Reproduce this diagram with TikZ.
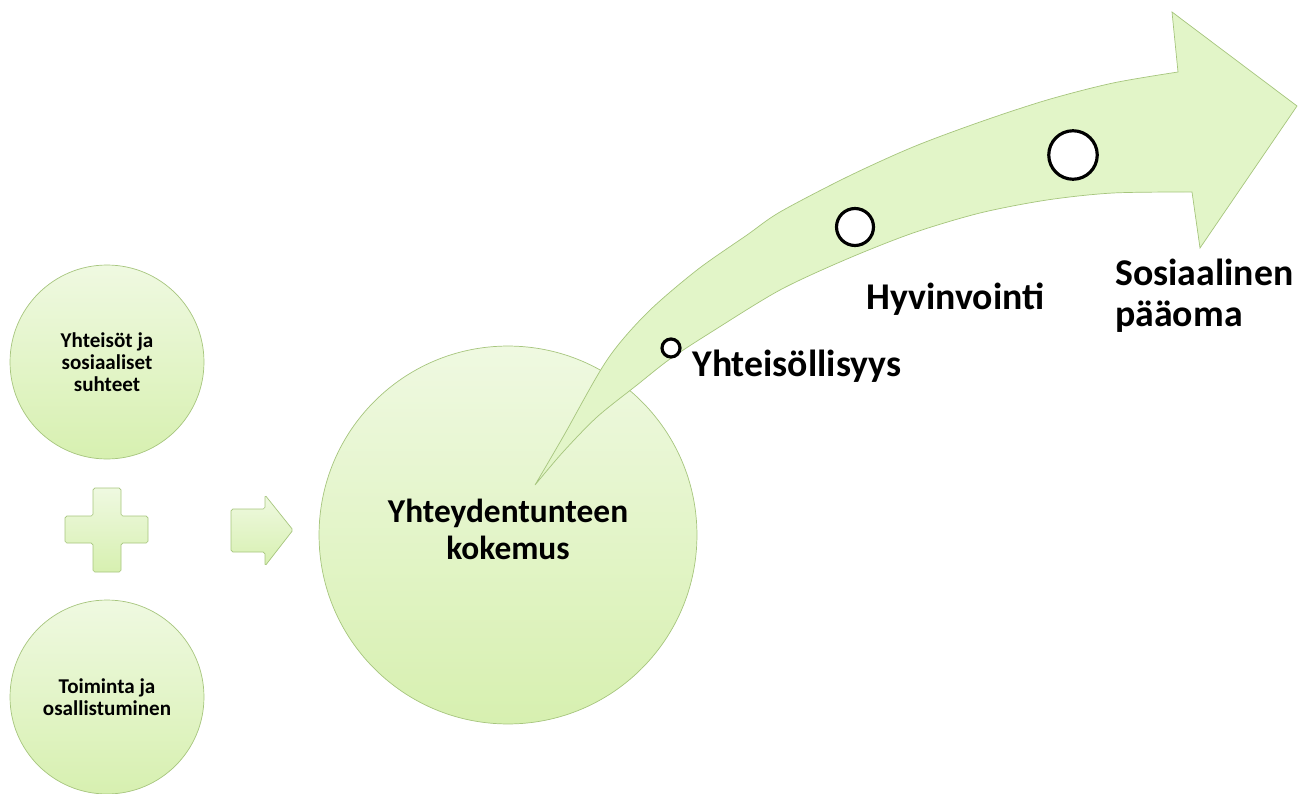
\documentclass[tikz,border=0pt]{standalone}
\usepackage{fontspec}
\setmainfont{Carlito}
\definecolor{leaftop}{HTML}{EFF9E1}
\definecolor{leafbot}{HTML}{D7F0B0}
\definecolor{leaffill}{HTML}{E2F5C8}
\definecolor{leafline}{HTML}{A6C57D}

\begin{document}
\begin{tikzpicture}[x=0.02cm,y=-0.02cm,
		bubble/.style={circle,draw=leafline,top color=leaftop,bottom color=leafbot,align=center,inner sep=0pt},
		blockshape/.style={draw=leafline,top color=leaftop,bottom color=leafbot,rounded corners=1pt},
		stage/.style={circle,draw=black,fill=white,line width=1.8pt,inner sep=0pt},
		stagetext/.style={anchor=base west,inner sep=0pt,align=left,font=\bfseries\fontsize{21.5}{23}\selectfont}]
	\useasboundingbox (0,0) rectangle (1311,794);
	\node[bubble,minimum size=3.88cm,font=\bfseries\fontsize{12}{12.6}\selectfont] (yhteisot) at (107,362) {Yhteisöt ja\\sosiaaliset\\suhteet};
	\node[bubble,minimum size=3.88cm,font=\bfseries\fontsize{12}{12.6}\selectfont] (toiminta) at (107,697) {Toiminta ja\\osallistuminen};
	\draw[blockshape] (93,488) -- (121,488) -- (121,516) -- (148,516) -- (148,543) -- (121,543) -- (121,572) -- (93,572) -- (93,543) -- (65,543) -- (65,516) -- (93,516) -- cycle;
	\draw[blockshape] (231,509) -- (265,509) -- (265,495) -- (293,530) -- (265,566) -- (265,552) -- (231,552) -- cycle;
	\node[bubble,minimum size=7.56cm] (kokemus) at (508,535) {};
	\draw[draw=leafline,fill=leaffill] (535,485)
		-- plot[smooth,tension=0.5] coordinates {(535,485) (563,437) (607,360) (647,313) (697,270) (747,235) (780,212) (847,177) (913,147) (980,122) (1047,100) (1113,83) (1178,72)}
		-- (1172,12) -- (1297,106) -- (1200,248) -- (1192,192)
		-- plot[smooth,tension=0.5] coordinates {(1192,192) (1113,193) (1047,200) (980,213) (913,233) (847,259) (780,290) (713,331) (670,359) (637,385) (597,417) (563,452) (535,485)} -- cycle;
	\node[align=center,font=\bfseries\fontsize{19}{21}\selectfont] at (508,529) {Yhteydentunteen\\kokemus};
	\node[stage,minimum size=0.36cm] (m1) at (671,348) {};
	\node[stage,minimum size=0.74cm] (m2) at (855,227) {};
	\node[stage,minimum size=0.97cm] (m3) at (1073,155) {};
	\node[stagetext] (yhteisollisyys) at (692,376) {Yhteisöllisyys};
	\node[stagetext] (hyvinvointi) at (866,309) {Hyvinvointi};
	\node[stagetext] (paaoma) at (1115,326) {Sosiaalinen\\pääoma};
\end{tikzpicture}
\end{document}
